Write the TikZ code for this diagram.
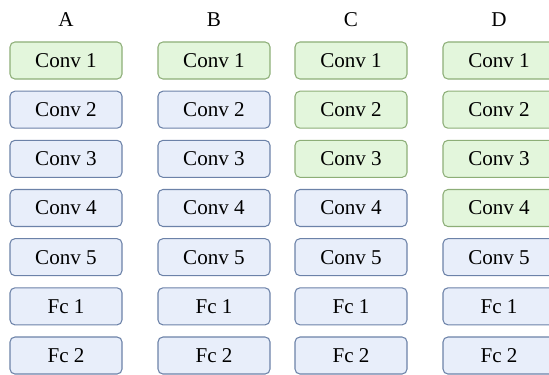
\documentclass[tikz,border=0pt]{standalone}
\usepackage{fontspec}
\setmainfont{Liberation Serif}
\usepackage{tikz}
\usepackage{xcolor}

\definecolor{frozenfill}{HTML}{E3F6DC}
\definecolor{frozenline}{HTML}{8DAE78}
\definecolor{trainfill}{HTML}{E8EEFA}
\definecolor{trainline}{HTML}{6C82A8}

\begin{document}
\begin{tikzpicture}[
    layer/.style={rectangle, rounded corners=2.8pt, line width=0.6pt,
      minimum width=2.24cm, minimum height=0.74cm, inner sep=0pt,
      font=\fontsize{12}{14}\selectfont},
    frozen/.style={layer, draw=frozenline, fill=frozenfill},
    train/.style={layer, draw=trainline, fill=trainfill},
    title/.style={font=\fontsize{12}{14}\selectfont}
  ]
  \useasboundingbox (0,0) rectangle (10.98,-7.48);

  % column A
  \node[title] (ta) at (1.32,-0.40) {A};
  \node[frozen] (a1) at (1.32,-1.21) {Conv 1};
  \node[train] (a2) at (1.32,-2.194) {Conv 2};
  \node[train] (a3) at (1.32,-3.177) {Conv 3};
  \node[train] (a4) at (1.32,-4.16) {Conv 4};
  \node[train] (a5) at (1.32,-5.143) {Conv 5};
  \node[train] (a6) at (1.32,-6.127) {Fc 1};
  \node[train] (a7) at (1.32,-7.11) {Fc 2};

  % column B
  \node[title] (tb) at (4.28,-0.40) {B};
  \node[frozen] (b1) at (4.28,-1.21) {Conv 1};
  \node[train] (b2) at (4.28,-2.194) {Conv 2};
  \node[train] (b3) at (4.28,-3.177) {Conv 3};
  \node[train] (b4) at (4.28,-4.16) {Conv 4};
  \node[train] (b5) at (4.28,-5.143) {Conv 5};
  \node[train] (b6) at (4.28,-6.127) {Fc 1};
  \node[train] (b7) at (4.28,-7.11) {Fc 2};

  % column C
  \node[title] (tc) at (7.02,-0.40) {C};
  \node[frozen] (c1) at (7.02,-1.21) {Conv 1};
  \node[frozen] (c2) at (7.02,-2.194) {Conv 2};
  \node[frozen] (c3) at (7.02,-3.177) {Conv 3};
  \node[train] (c4) at (7.02,-4.16) {Conv 4};
  \node[train] (c5) at (7.02,-5.143) {Conv 5};
  \node[train] (c6) at (7.02,-6.127) {Fc 1};
  \node[train] (c7) at (7.02,-7.11) {Fc 2};

  % column D
  \node[title] (td) at (9.98,-0.40) {D};
  \node[frozen] (d1) at (9.98,-1.21) {Conv 1};
  \node[frozen] (d2) at (9.98,-2.194) {Conv 2};
  \node[frozen] (d3) at (9.98,-3.177) {Conv 3};
  \node[frozen] (d4) at (9.98,-4.16) {Conv 4};
  \node[train] (d5) at (9.98,-5.143) {Conv 5};
  \node[train] (d6) at (9.98,-6.127) {Fc 1};
  \node[train] (d7) at (9.98,-7.11) {Fc 2};

\end{tikzpicture}
\end{document}
